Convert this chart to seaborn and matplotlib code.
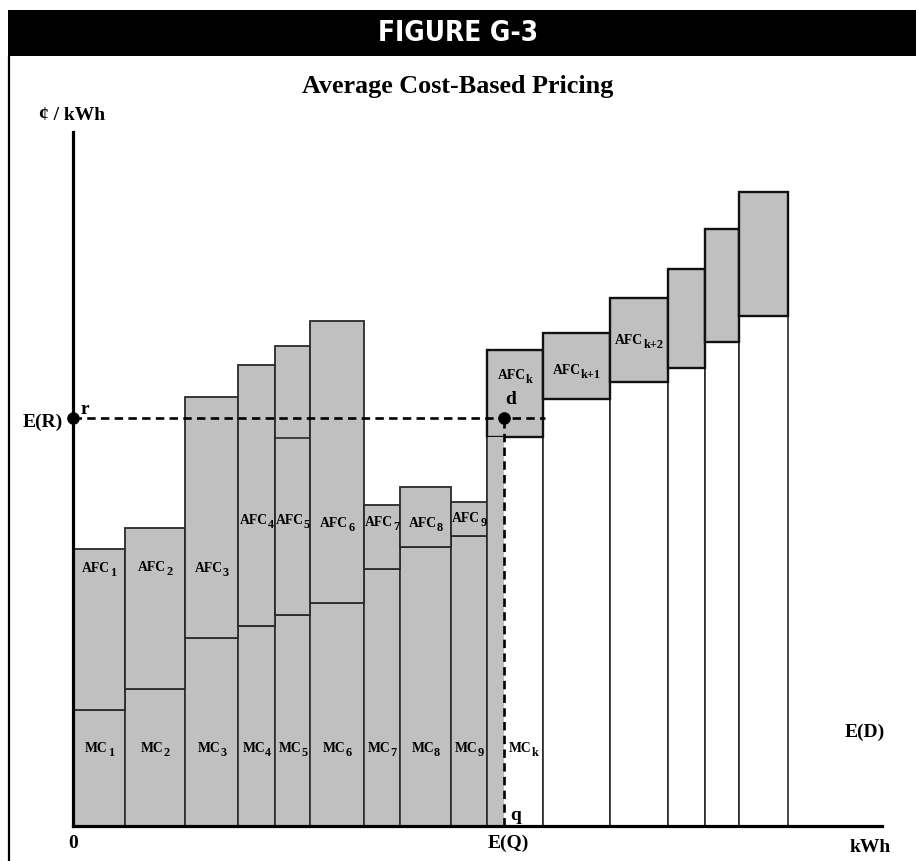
import matplotlib
matplotlib.use("Agg")
import matplotlib.pyplot as plt
from matplotlib.patches import Rectangle
from matplotlib.lines import Line2D
from matplotlib.transforms import offset_copy
import pandas as pd
import seaborn as sns

# Generating blocks in dispatch order: edges along the kWh axis
block_edges = [0, 5.2, 11.2, 16.5, 20.2, 23.7, 29.1, 32.7, 37.8, 41.4,
               47.0, 53.7, 59.5, 63.2, 66.6, 71.5]
# Marginal cost of each block (¢/kWh)
mc_values = [11.6, 13.7, 18.8, 20.0, 21.1, 22.3, 25.7, 27.9, 29.0,
             38.9, 42.7, 44.4, 45.8, 48.4, 51.0]
# Average fixed cost stacked on top of the marginal cost (¢/kWh)
afc_values = [16.1, 16.1, 24.1, 26.1, 26.9, 28.2, 6.4, 6.0, 3.4,
              8.7, 6.6, 8.4, 9.9, 11.3, 12.4]
afc_subscripts = ["1", "2", "3", "4", "5", "6", "7", "8", "9",
                  "k", "k+1", "k+2", "", "", ""]
mc_subscripts = ["1", "2", "3", "4", "5", "6", "7", "8", "9", "k"]
# Block 5's fixed-cost panel is drawn in two pieces, split at this level
afc_split = {4: 38.8}

expected_revenue = 40.8    # E(R)
expected_quantity = 43.1   # E(Q)

# Vertical placement of the in-bar labels (centre of the capitals)
afc_label_y = [25.8, 25.9, 25.8, 30.6, 30.6, 30.3, 30.4, 30.3, 30.8,
               45.1, 45.6, 48.6]
mc_label_y = 7.8

FILL = "#c0c0c0"
EDGE = "#2a2a2a"
SERIF = ["Liberation Serif", "DejaVu Serif"]

sns.set_theme(style="white")
plt.rcParams["font.family"] = SERIF
plt.rcParams["font.weight"] = "bold"
plt.rcParams["text.color"] = "black"

W, H = 916, 861
fig = plt.figure(figsize=(W / 100, H / 100), dpi=100)
fig.patch.set_facecolor("white")
renderer = fig.canvas.get_renderer()

# Axes placed in pixel terms: origin at (73, 826), top of y-axis at 132
x0, y0, x1, y1 = 73.3, 826, 882, 132
ax = fig.add_axes([x0 / W, 1 - y0 / H, (x1 - x0) / W, (y0 - y1) / H])
ax.set_xlim(0, (x1 - x0) / 10)
ax.set_ylim(0, (y0 - y1) / 10)
ax.set_facecolor("none")
sns.despine(ax=ax)
for side in ("left", "bottom"):
    ax.spines[side].set_linewidth(2.3)
    ax.spines[side].set_color("black")
    ax.spines[side].set_zorder(8)
ax.set_xticks([])
ax.set_yticks([])

# Cost blocks
for i, (mc, afc) in enumerate(zip(mc_values, afc_values)):
    left, right = block_edges[i], block_edges[i + 1]
    width = right - left
    if right <= expected_quantity:
        ax.bar(left, mc, width, align="edge", color=FILL, edgecolor=EDGE,
               linewidth=1.2, zorder=2)
    else:
        ax.add_patch(Rectangle((left, 0), width, mc, facecolor="white",
                               edgecolor=EDGE, linewidth=1.2, zorder=2))
        if left < expected_quantity:
            # share of the marginal block consumed up to E(Q)
            ax.add_patch(Rectangle((left, 0), expected_quantity - left, mc,
                                   facecolor=FILL, edgecolor="none",
                                   zorder=3.5))
            ax.vlines(left, 0, mc, color=EDGE, linewidth=1.2, zorder=3.6)
    ax.bar(left, afc, width, bottom=mc, align="edge", color=FILL,
           edgecolor=EDGE if i < 9 else "#111111",
           linewidth=1.3 if i < 9 else 1.7, zorder=3)
    if i in afc_split:
        ax.hlines(afc_split[i], left, right, color=EDGE, linewidth=1.2, zorder=4)


def sub_label(cx, cy, base, sub, size=9.8):
    """Write base text with a lowered subscript, centred on (cx, cy)."""
    yb = cy - 0.42
    t_base = ax.text(cx, yb, base, ha="left", va="baseline", fontsize=size,
                     fontweight="bold", color="black", zorder=6)
    t_sub = ax.text(cx, yb, sub, ha="left", va="baseline", fontsize=size * 0.9,
                    fontweight="bold", color="black", zorder=6)
    w1 = t_base.get_window_extent(renderer).width
    w2 = t_sub.get_window_extent(renderer).width
    shift = -(w1 + w2) / 2
    t_base.set_transform(offset_copy(ax.transData, fig=fig, x=shift, y=0,
                                     units="dots"))
    t_sub.set_transform(offset_copy(ax.transData, fig=fig, x=shift + w1,
                                    y=-3.5, units="dots"))


# Block labels
for i, sub in enumerate(afc_subscripts[:len(afc_label_y)]):
    cx = (block_edges[i] + block_edges[i + 1]) / 2
    sub_label(cx, afc_label_y[i], "AFC", sub)
for i, sub in enumerate(mc_subscripts):
    left, right = block_edges[i], block_edges[i + 1]
    if right > expected_quantity:
        left = expected_quantity
    sub_label((left + right) / 2, mc_label_y, "MC", sub)

# Expected revenue and expected quantity guides
dash = (3.2, 2.0)
ax.plot([0, 47.2], [expected_revenue, expected_revenue], color="black",
        linewidth=1.9, dashes=dash, zorder=5, clip_on=False)
ax.plot([expected_quantity, expected_quantity], [0, expected_revenue],
        color="black", linewidth=1.9, dashes=dash, zorder=5)
pts = pd.DataFrame({"kWh": [0, expected_quantity],
                    "price": [expected_revenue, expected_revenue]})
sns.scatterplot(data=pts, x="kWh", y="price", ax=ax, color="black", s=70,
                edgecolor="black", zorder=9, clip_on=False, legend=False)
ax.set_xlabel("")
ax.set_ylabel("")

# Annotations
txt = dict(fontsize=14, fontweight="bold", color="black", clip_on=False)
ax.text(-1.0, 40.4, "E(R)", ha="right", va="center", **txt)
ax.text(0.7, 41.6, "r", ha="left", va="center", **txt)
ax.text(expected_quantity + 0.6, 42.6, "d", ha="center", va="center", **txt)
ax.text(expected_quantity + 0.6, 1.1, "q", ha="left", va="center", **txt)
ax.text(expected_quantity + 0.4, -1.7, "E(Q)", ha="center", va="center", **txt)
ax.text(0, -1.7, "0", ha="center", va="center", **txt)
ax.text(79.7, -2.1, "kWh", ha="center", va="center", **txt)
ax.text(79.1, 9.4, "E(D)", ha="center", va="center", **txt)
ax.text(-0.1, 71.0, "¢ / kWh", ha="center", va="center", fontsize=14,
        fontweight="bold", color="black", clip_on=False)

# Frame: black header band and left rule
fig.add_artist(Rectangle((8 / W, 1 - 56 / H), 1 - 8 / W, 46 / H,
                         transform=fig.transFigure, facecolor="black",
                         edgecolor="none"))
fig.add_artist(Line2D([8.5 / W, 8.5 / W], [0, 1 - 56 / H],
                      transform=fig.transFigure, color="black", linewidth=1.6))
fig.text(458 / W, 1 - 33 / H, "FIGURE G-3", ha="center", va="center",
         color="white", fontsize=20, fontweight="bold",
         family=["DejaVu Sans"], fontstretch="condensed")
fig.text(458 / W, 1 - 87 / H, "Average Cost-Based Pricing", ha="center",
         va="center", fontsize=18.8, fontweight="bold", color="black",
         family=SERIF)

fig.savefig("out.png", dpi=100, facecolor="white")
